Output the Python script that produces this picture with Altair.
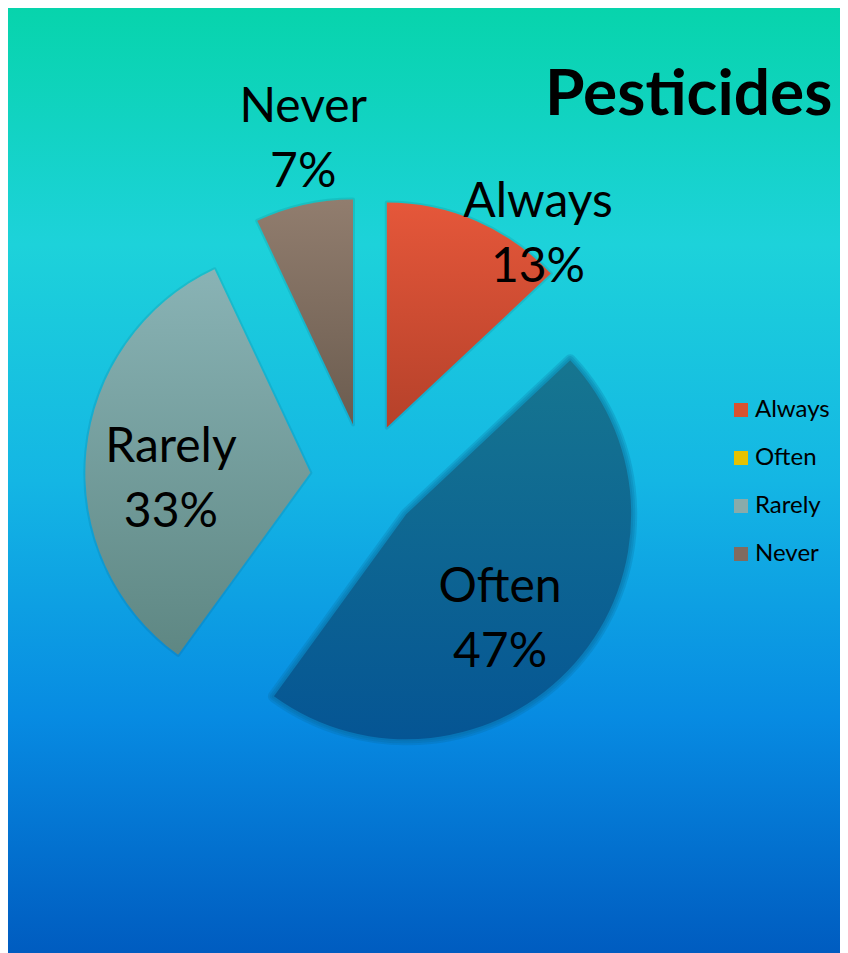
import altair as alt
import pandas as pd

# ---- data ----
categories = ["Always", "Often", "Rarely", "Never"]
percentages = [13, 47, 33, 7]
pct_labels = ["13%", "47%", "33%", "7%"]
legend_colors = ["#D9522F", "#E6C200", "#89ABAA", "#816B5F"]
title_text = "Pesticides"

# ---- layout / style (not data) ----
W, H = 832, 945
CX, CY = 357, 470            # pie centre inside the plot, px
R = 225                      # pie radius in px
EXPLODE = 0.244              # slice explosion, in radius units
label_radius = {"Always": 1.455, "Often": 0.766, "Rarely": 0.875, "Never": 1.68}
label_shift = {"Always": 8.5, "Often": -3.0, "Rarely": 4.25, "Never": 3.2}
slice_grad = {
    "Always": ("#E5573A", "#B5412A"),
    "Often": ("#167690", "#055594"),
    "Rarely": ("#89B3B5", "#5E8783"),
    "Never": ("#917D6E", "#6B5C4F"),
}
soft_edge = {"Often": "#0B6690"}   # blurred rim colour

df = pd.DataFrame({
    "category": categories,
    "value": percentages,
    "pct": pct_labels,
    "order": list(range(len(categories))),
    "lr": [label_radius[c] for c in categories],
    "ls": [label_shift[c] for c in categories],
})

xs = alt.Scale(domain=[-CX / R, (W - CX) / R], nice=False, zero=False)
ys = alt.Scale(domain=[-(H - CY) / R, CY / R], nice=False, zero=False)
ts = alt.Scale(domain=[0, 100], range=[0, 6.283185307179586])


def base():
    return (
        alt.Chart(df)
        .transform_window(cum="sum(value)", sort=[alt.SortField("order")], frame=[None, 0])
        .transform_calculate(start="datum.cum - datum.value", end="datum.cum")
        .transform_calculate(mid="(datum.start + datum.value / 2) / 100 * 2 * PI")
        .transform_calculate(
            cx=f"{EXPLODE} * sin(datum.mid)",
            cy=f"{EXPLODE} * cos(datum.mid)",
            lx="datum.lr * sin(datum.mid + datum.ls * PI / 180)",
            ly="datum.lr * cos(datum.mid + datum.ls * PI / 180)",
            txt="datum.category + '\\n' + datum.pct",
        )
    )


def arc_enc(ch):
    return ch.encode(
        x=alt.X("cx:Q", scale=xs, axis=None),
        y=alt.Y("cy:Q", scale=ys, axis=None),
        theta=alt.Theta("start:Q", scale=ts, stack=None),
        theta2="end:Q",
    )


bg = alt.Chart(alt.Data(values=[{}])).mark_rect(
    fill=alt.Gradient(
        gradient="linear", x1=0, x2=0, y1=0, y2=1,
        stops=[
            alt.GradientStop(color="#07D4AC", offset=0),
            alt.GradientStop(color="#1DD2DA", offset=0.25),
            alt.GradientStop(color="#14B6E4", offset=0.5),
            alt.GradientStop(color="#078BE2", offset=0.75),
            alt.GradientStop(color="#005CC0", offset=1),
        ],
    )
).encode(x=alt.value(0), x2=alt.value(W), y=alt.value(0), y2=alt.value(H))

shadow = arc_enc(
    base().transform_filter(alt.datum.category != "Often").mark_arc(
        radius=R, fillOpacity=0.0, stroke="#002838", strokeOpacity=0.10,
        strokeWidth=4, strokeJoin="round")
)

soft = []
for c, col in soft_edge.items():
    for w in (12, 8, 4):
        soft.append(arc_enc(
            base().transform_filter(alt.datum.category == c).mark_arc(
                radius=R, fillOpacity=0.0, stroke=col, strokeOpacity=0.22,
                strokeWidth=w, strokeJoin="round")
        ))

slices = []
for c in categories:
    top, bot = slice_grad[c]
    layer = arc_enc(
        base().transform_filter(alt.datum.category == c).mark_arc(
            radius=R,
            fill=alt.Gradient(
                gradient="linear", x1=0, x2=0, y1=0, y2=1,
                stops=[alt.GradientStop(color=top, offset=0),
                       alt.GradientStop(color=bot, offset=1)],
            ),
        )
    )
    slices.append(layer)

legend_layer = base().mark_arc(radius=0).encode(
    x=alt.X("cx:Q", scale=xs, axis=None),
    y=alt.Y("cy:Q", scale=ys, axis=None),
    theta=alt.Theta("start:Q", scale=ts, stack=None),
    theta2="end:Q",
    color=alt.Color(
        "category:N",
        scale=alt.Scale(domain=categories, range=legend_colors),
        legend=alt.Legend(
            title=None, orient="none", legendX=721, legendY=390,
            symbolType="square", symbolSize=196, symbolStrokeWidth=0,
            symbolOpacity=1, labelFont="Lato", labelFontSize=24,
            labelColor="black", labelOffset=2, rowPadding=24, labelLimit=0,
        ),
    ),
)

labels = base().mark_text(
    font="Lato", fontSize=48, lineBreak="\n", lineHeight=65,
    color="black", align="center", baseline="middle", dy=3,
).encode(
    x=alt.X("lx:Q", scale=xs, axis=None),
    y=alt.Y("ly:Q", scale=ys, axis=None),
    text="txt:N",
)

title = alt.Chart(alt.Data(values=[{}])).mark_text(
    text=title_text, font="Lato", fontWeight="bold", fontSize=64,
    align="left", baseline="alphabetic", color="black",
).encode(x=alt.value(537), y=alt.value(107))

chart = alt.layer(bg, shadow, *soft, *slices, legend_layer, labels, title).properties(
    width=W, height=H, autosize="none", padding=0,
).configure_view(stroke=None)

chart.save("out.html", embed_options={"renderer": "svg", "actions": False})
